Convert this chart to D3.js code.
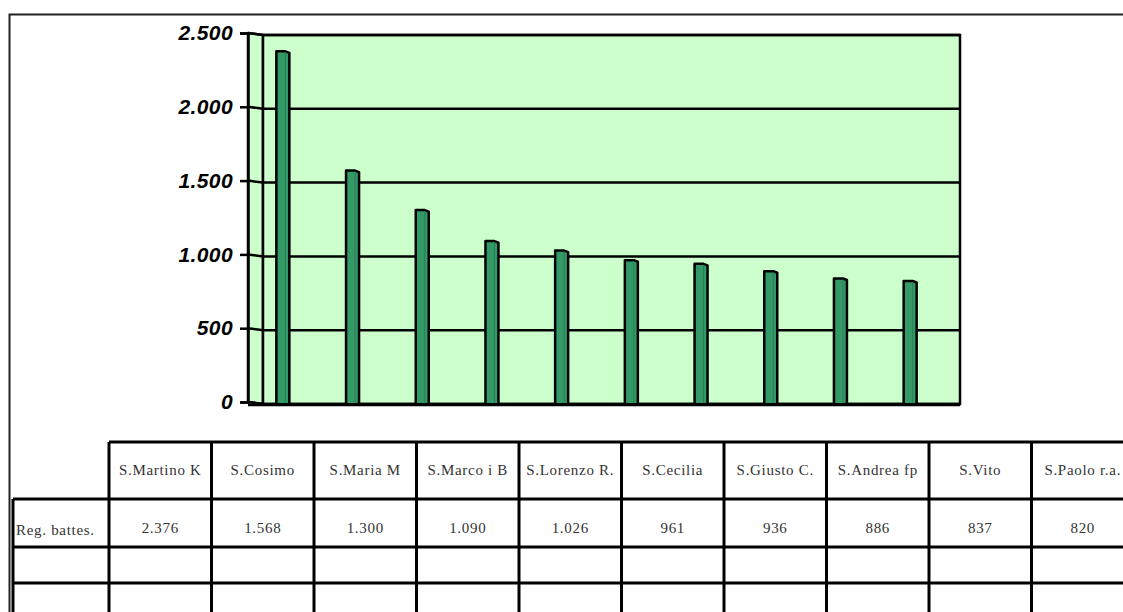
<!DOCTYPE html>
<html>
<head>
<meta charset="utf-8">
<script src="https://cdn.jsdelivr.net/npm/d3@7"></script>
<style>
  html, body { margin: 0; padding: 0; background: #fff; }
  svg { display: block; }
</style>
</head>
<body>
<svg id="chart" width="1123" height="612"></svg>
<script>
// Registri battesimali per parrocchia
const categories = ["S.Martino K", "S.Cosimo", "S.Maria M", "S.Marco i B", "S.Lorenzo R.",
                    "S.Cecilia", "S.Giusto C.", "S.Andrea fp", "S.Vito", "S.Paolo r.a."];
const values = [2376, 1568, 1300, 1090, 1026, 961, 936, 886, 837, 820];
const valueLabels = ["2.376", "1.568", "1.300", "1.090", "1.026", "961", "936", "886", "837", "820"];
const seriesName = "Reg. battes.";
const yTicks = [0, 500, 1000, 1500, 2000, 2500];

const svg = d3.select("#chart");
const fmt = d => d3.format(",")(d).replace(/,/g, ".");

// 3D geometry: front plane and depth offset of the back wall
const frontLeft = 248, frontRight = 945;
const depthX = 15, depthY = 2;
const yFront = d3.scaleLinear().domain([0, 2500]).range([402, 33]);
const yBack = v => yFront(v) + depthY;
const x = d3.scaleBand().domain(categories).range([frontLeft, frontRight]);

// outer frame
svg.append("path").attr("d", "M9.5,612 L9.5,14.5 L1123,14.5")
  .attr("fill", "none").attr("stroke", "#222").attr("stroke-width", 2);

const wallFill = "#CCFFCC";
const lineW = 2.5;
const backL = frontLeft + depthX, backR = frontRight + depthX;

// side wall
svg.append("polygon")
  .attr("points", [[frontLeft, yFront(2500)], [backL, yBack(2500)], [backL, yBack(0)], [frontLeft, yFront(0)]].join(" "))
  .attr("fill", wallFill).attr("stroke", "#000").attr("stroke-width", lineW).attr("stroke-linejoin", "round");

// back wall
svg.append("rect")
  .attr("x", backL).attr("y", yBack(2500))
  .attr("width", backR - backL).attr("height", yBack(0) - yBack(2500))
  .attr("fill", wallFill).attr("stroke", "#000").attr("stroke-width", lineW);

// gridlines (side wall + back wall)
const grid = svg.append("g").attr("stroke", "#000").attr("stroke-width", lineW).attr("fill", "none");
yTicks.forEach(t => {
  grid.append("path")
    .attr("d", `M${frontLeft},${yFront(t)} L${backL},${yBack(t)} L${backR},${yBack(t)}`);
});

// floor edge
svg.append("line").attr("x1", frontLeft).attr("x2", backR)
  .attr("y1", yBack(0) + 1).attr("y2", yBack(0) + 1)
  .attr("stroke", "#000").attr("stroke-width", lineW);

// value axis
const axis = d3.axisLeft(yFront).tickValues(yTicks).tickSize(8).tickPadding(7).tickFormat(fmt);
const ag = svg.append("g").attr("transform", `translate(${frontLeft},0)`).call(axis);
ag.select(".domain").attr("stroke", "#000").attr("stroke-width", lineW);
ag.selectAll(".tick line").attr("stroke", "#000").attr("stroke-width", lineW);
ag.selectAll(".tick text")
  .attr("fill", "#000")
  .style("font-family", "'Liberation Sans', Arial, sans-serif")
  .style("font-size", "21px").style("font-weight", "bold").style("font-style", "italic")
  .style("letter-spacing", "0.4px");

// columns
const barW = 13;
const bars = svg.append("g");
categories.forEach((c, i) => {
  const cx = x(c) + x.bandwidth() / 2;
  const x0 = cx - barW / 2, x1 = cx + barW / 2;
  const top = yFront(values[i]), base = yFront(0) + 1;
  bars.append("path")
    .attr("d", `M${x0},${base} L${x0},${top} L${x1 - 4},${top} L${x1},${top + 1.5} L${x1},${base}`)
    .attr("fill", "#339966").attr("stroke", "#000").attr("stroke-width", 2.5).attr("stroke-linejoin", "round");
  bars.append("line")
    .attr("x1", x1 - 4).attr("x2", x1 - 4).attr("y1", top + 1).attr("y2", base)
    .attr("stroke", "#2a7f55").attr("stroke-width", 1);
});

// data table
const tLeft = 13, firstCol = 109, colW = 102.5;
const rowY = [442, 499, 547, 583, 640];
const tab = svg.append("g").attr("stroke", "#000").attr("stroke-width", 3).attr("fill", "none");
const colX = d3.range(categories.length + 1).map(i => firstCol + i * colW);
// horizontal lines
tab.append("line").attr("x1", firstCol).attr("x2", 1123).attr("y1", rowY[0]).attr("y2", rowY[0]);
rowY.slice(1, 4).forEach(y => tab.append("line").attr("x1", tLeft).attr("x2", 1123).attr("y1", y).attr("y2", y));
// vertical lines
tab.append("line").attr("x1", tLeft).attr("x2", tLeft).attr("y1", rowY[1]).attr("y2", 612);
colX.forEach(cx => tab.append("line").attr("x1", cx).attr("x2", cx).attr("y1", rowY[0]).attr("y2", 612));

const txt = svg.append("g")
  .style("font-family", "'Liberation Serif', 'Times New Roman', serif")
  .style("font-size", "15px").style("letter-spacing", "0.7px").attr("fill", "#333");
categories.forEach((c, i) => {
  const cx = colX[i] + colW / 2;
  txt.append("text").attr("x", cx).attr("y", 475).attr("text-anchor", "middle").text(c);
  txt.append("text").attr("x", cx).attr("y", 533).attr("text-anchor", "middle").text(valueLabels[i]);
});
txt.append("text").attr("x", 16).attr("y", 535).text(seriesName);
</script>
</body>
</html>
